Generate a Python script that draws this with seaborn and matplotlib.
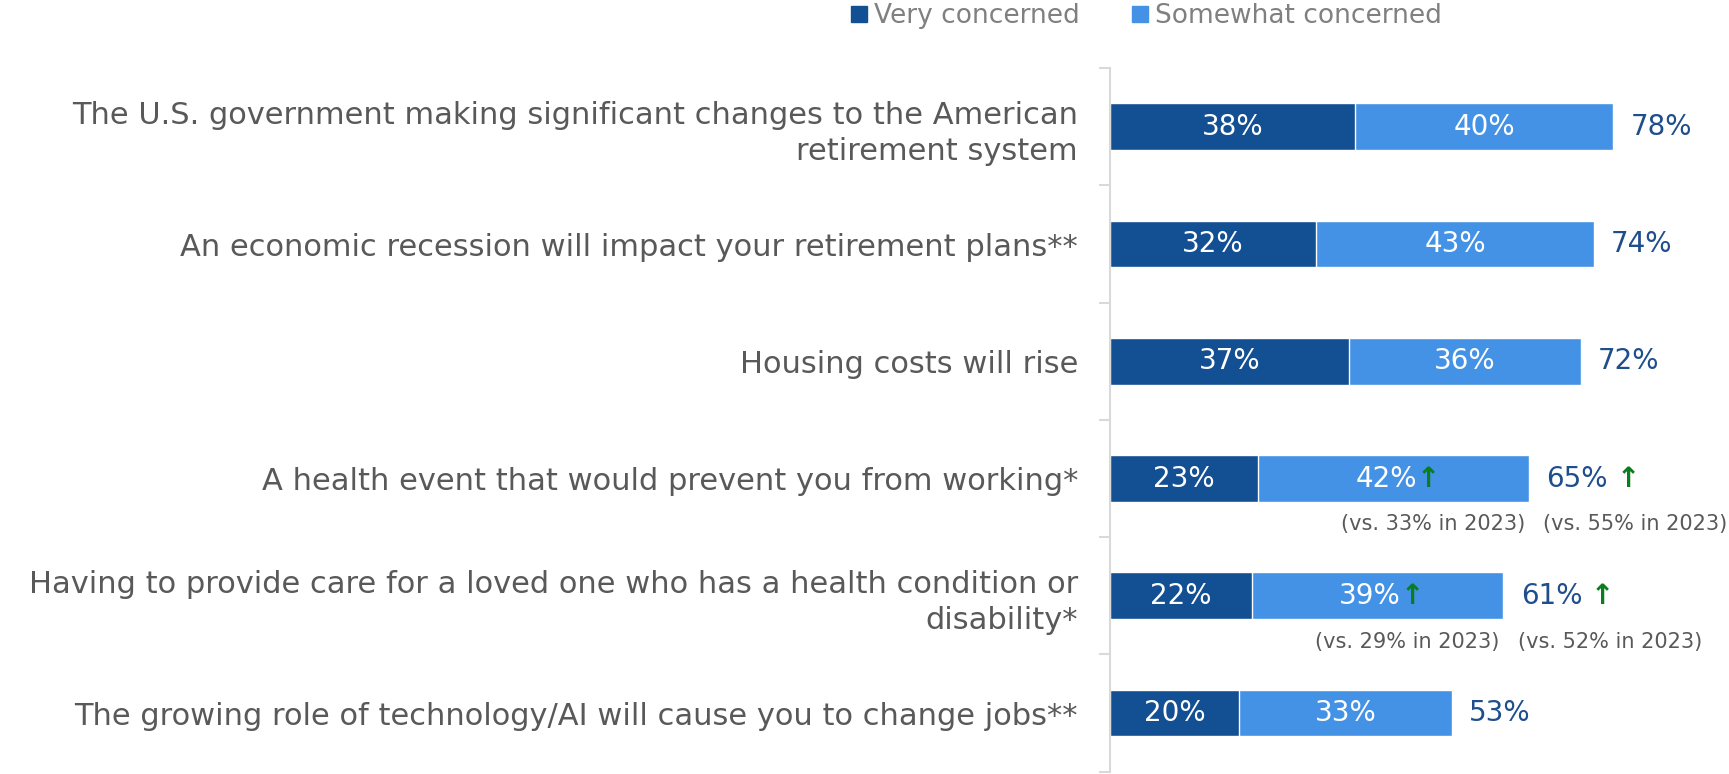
import seaborn as sns
import matplotlib.pyplot as plt
import pandas as pd
from matplotlib.patches import Patch

categories = [
    "The U.S. government making significant changes to the American\nretirement system",
    "An economic recession will impact your retirement plans**",
    "Housing costs will rise",
    "A health event that would prevent you from working*",
    "Having to provide care for a loved one who has a health condition or\ndisability*",
    "The growing role of technology/AI will cause you to change jobs**",
]
very = [38, 32, 37, 23, 22, 20]
somewhat = [40, 43, 36, 42, 39, 33]
totals = [78, 74, 72, 65, 61, 53]
somewhat_2023 = [None, None, None, 33, 29, None]
total_2023 = [None, None, None, 55, 52, None]

DARK = "#134F93"
LIGHT = "#4492E6"
TOTAL_C = "#1F4E8C"
GRAY = "#595959"
GREEN = "#0A7D1F"

df = pd.DataFrame({"cat": categories, "very": very, "somewhat": somewhat})
df["stack"] = df["very"] + df["somewhat"]

sns.set_theme(style="white")
plt.rcParams["font.family"] = ["DejaVu Sans"]

fig = plt.figure(figsize=(17.29, 7.74), dpi=100)
ax = fig.add_axes([0.642, 0.003, 0.358, 0.909])

# light bar = full stack, dark bar drawn over it
sns.barplot(data=df, y="cat", x="stack", color=LIGHT, orient="h", width=0.4,
            saturation=1, ax=ax)
sns.barplot(data=df, y="cat", x="very", color=DARK, orient="h", width=0.4,
            saturation=1, ax=ax)

ax.set_xlim(0, 96)
ax.set_ylim(5.5, -0.5)
ax.set_xlabel("")
ax.set_ylabel("")
ax.set_xticks([])
for s in ["top", "right", "bottom"]:
    ax.spines[s].set_visible(False)
ax.spines["left"].set_color("#D9D9D9")
ax.spines["left"].set_linewidth(1.5)

ax.set_yticks(range(len(categories)))
ax.set_yticklabels(categories, fontsize=22, color=GRAY, multialignment="right",
                   linespacing=1.3)
ax.set_yticks([i - 0.5 for i in range(len(categories) + 1)], minor=True)
ax.tick_params(axis="y", which="major", length=0, pad=23)
ax.tick_params(axis="y", which="minor", length=8, width=1.5, color="#D9D9D9", left=True)


def up_arrow(txt, gap):
    ax.annotate("\u2191", xy=(1, 0.5), xycoords=txt, xytext=(gap, 0),
                textcoords="offset points", color=GREEN, fontsize=20,
                fontweight="bold", ha="left", va="center")


fs = 20
for i in range(len(categories)):
    v, s, t = very[i], somewhat[i], totals[i]
    end = v + s
    ax.text(v / 2, i, f"{v}%", color="white", fontsize=fs, ha="center", va="center")
    shift = 1.2 if somewhat_2023[i] else 0
    st = ax.text(v + s / 2 - shift, i, f"{s}%", color="white", fontsize=fs,
                 ha="center", va="center")
    tt = ax.text(end + 2.7, i, f"{t}%", color=TOTAL_C, fontsize=fs,
                 ha="left", va="center")
    if somewhat_2023[i]:
        up_arrow(st, 0)
        ax.text(end - 0.6, i + 0.39, f"(vs. {somewhat_2023[i]}% in 2023)",
                color=GRAY, fontsize=15, ha="right", va="center")
    if total_2023[i]:
        up_arrow(tt, 6)
        ax.text(end + 2.2, i + 0.39, f"(vs. {total_2023[i]}% in 2023)",
                color=GRAY, fontsize=15, ha="left", va="center")

handles = [Patch(color=DARK, label="Very concerned"),
           Patch(color=LIGHT, label="Somewhat concerned")]
fig.legend(handles=handles, loc="center", bbox_to_anchor=(0.663, 0.979), ncol=2,
           frameon=False, fontsize=19, labelcolor="#808080", handlelength=0.6,
           handleheight=0.6, handletextpad=0.25, columnspacing=2.0)

fig.savefig("out.png", dpi=100)
